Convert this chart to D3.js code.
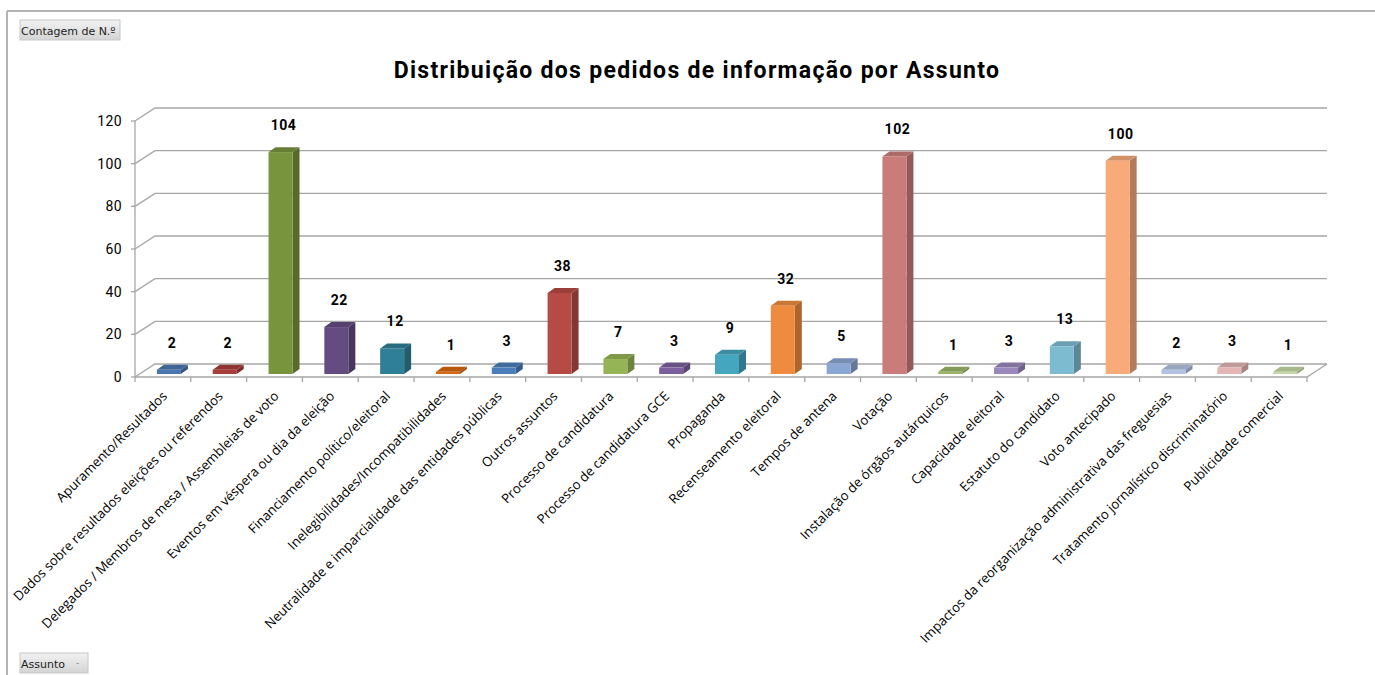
<!DOCTYPE html>
<html>
<head>
<meta charset="utf-8">
<script src="https://cdn.jsdelivr.net/npm/d3@7"></script>
<style>
  body { margin: 0; background: #fff; }
  svg { display: block; }
</style>
</head>
<body>
<svg id="chart" width="1375" height="675"></svg>
<script>
const categories = [
  "Apuramento/Resultados",
  "Dados sobre resultados eleições ou referendos",
  "Delegados / Membros de mesa / Assembleias de voto",
  "Eventos em véspera ou dia da eleição",
  "Financiamento político/eleitoral",
  "Inelegibilidades/Incompatibilidades",
  "Neutralidade e imparcialidade das entidades públicas",
  "Outros assuntos",
  "Processo de candidatura",
  "Processo de candidatura GCE",
  "Propaganda",
  "Recenseamento eleitoral",
  "Tempos de antena",
  "Votação",
  "Instalação de órgãos autárquicos",
  "Capacidade eleitoral",
  "Estatuto do candidato",
  "Voto antecipado",
  "Impactos da reorganização administrativa das freguesias",
  "Tratamento jornalístico discriminatório",
  "Publicidade comercial"
];
const counts = [2, 2, 104, 22, 12, 1, 3, 38, 7, 3, 9, 32, 5, 102, 1, 3, 13, 100, 2, 3, 1];
const barColors = [
  "#4a76ae", "#a83e3b", "#78953d", "#644b82", "#2f7f96", "#d9670f", "#4a7ebb",
  "#b64a45", "#95b455", "#7a5f9c", "#45a6c0", "#ef8b3f", "#8aa6d3", "#ca7c7b",
  "#9ab665", "#9a87bc", "#7dbcd0", "#f8aa79", "#b2c3e1", "#e3b6b5", "#c5d8a6"
];
const yTicks = [0, 20, 40, 60, 80, 100, 120];

const title = "Distribuição dos pedidos de informação por Assunto";

const svg = d3.select("#chart");

// frame
svg.append("line").attr("x1", 7).attr("y1", 11).attr("x2", 1375).attr("y2", 11)
  .attr("stroke", "#b4b4b4").attr("stroke-width", 2);
svg.append("line").attr("x1", 7).attr("y1", 11).attr("x2", 7).attr("y2", 675)
  .attr("stroke", "#b4b4b4").attr("stroke-width", 2);

// field buttons
function fieldButton(x, y, w, label, arrow) {
  const g = svg.append("g").attr("transform", `translate(${x},${y})`);
  const grad = "grad" + Math.round(y);
  const lg = svg.append("defs").append("linearGradient").attr("id", grad)
    .attr("x1", 0).attr("y1", 0).attr("x2", 0).attr("y2", 1);
  lg.append("stop").attr("offset", 0).attr("stop-color", "#f2f2f2");
  lg.append("stop").attr("offset", 1).attr("stop-color", "#d4d4d4");
  g.append("rect").attr("width", w).attr("height", 20)
    .attr("fill", `url(#${grad})`).attr("stroke", "#c8c8c8");
  g.append("text").attr("x", 1).attr("y", 14.5)
    .attr("font-family", "DejaVu Sans, sans-serif").attr("font-size", 11)
    .attr("fill", "#222").text(label);
  if (arrow) {
    g.append("text").attr("x", w - 12).attr("y", 13)
      .attr("font-family", "DejaVu Sans, sans-serif").attr("font-size", 9)
      .attr("fill", "#888").text("-");
  }
}
fieldButton(20, 20, 100, "Contagem de N.º", false);
fieldButton(20, 653, 68, "Assunto", true);

// title
svg.append("text")
  .attr("x", 697).attr("y", 78)
  .attr("text-anchor", "middle")
  .attr("font-family", "Roboto, sans-serif")
  .attr("font-weight", 700)
  .attr("font-size", 23)
  .attr("letter-spacing", 1.3)
  .attr("fill", "#000")
  .text(title);

// 3D geometry
const DX = 20, DY = -13;       // wall depth
const x = d3.scaleBand().domain(categories).range([135, 1307]);
const y = d3.scaleLinear().domain([0, 120]).range([377, 121]);

const grid = svg.append("g").attr("stroke", "#a6a6a6").attr("stroke-width", 1.3).attr("fill", "none");

yTicks.forEach(v => {
  const yf = y(v);
  grid.append("path").attr("d",
    `M${x.range()[0]},${yf} L${x.range()[0] + DX},${yf + DY} L${x.range()[1] + DX},${yf + DY}`);
});
// front-left axis
grid.append("line").attr("x1", 135).attr("y1", y(0)).attr("x2", 135).attr("y2", y(120));
// floor front edge and right diagonal
grid.append("path").attr("d",
  `M135,${y(0)} L${x.range()[1]},${y(0)} L${x.range()[1] + DX},${y(0) + DY}`);
// x ticks
const bounds = categories.map(c => x(c)).concat([x.range()[1]]);
bounds.forEach(b => {
  grid.append("line").attr("x1", b).attr("y1", y(0)).attr("x2", b).attr("y2", y(0) + 5);
});
// y ticks
yTicks.forEach(v => {
  grid.append("line").attr("x1", 131).attr("y1", y(v)).attr("x2", 135).attr("y2", y(v));
});

svg.append("g").selectAll("text").data(yTicks).join("text")
  .attr("x", 122).attr("y", d => y(d) + 5)
  .attr("text-anchor", "end")
  .attr("font-family", "Roboto, sans-serif")
  .attr("font-size", 14)
  .attr("letter-spacing", 0.4)
  .attr("fill", "#000")
  .text(d => d);

// bars
const BW = 24, BDX = 7, BDY = -5, SHIFT = 6, LIFT = 3;
const barG = svg.append("g");
categories.forEach((c, i) => {
  const v = counts[i];
  const col = d3.color(barColors[i]);
  const x0 = x(c) + x.bandwidth() / 2 - BW / 2 + SHIFT;
  const x1 = x0 + BW;
  const yb = y(0) - LIFT;
  const yt = y(v) - LIFT;
  const g = barG.append("g");
  // side
  g.append("path").attr("d",
    `M${x1},${yb} L${x1 + BDX},${yb + BDY} L${x1 + BDX},${yt + BDY} L${x1},${yt} Z`)
    .attr("fill", col.darker(0.9));
  // top
  g.append("path").attr("d",
    `M${x0},${yt} L${x0 + BDX},${yt + BDY} L${x1 + BDX},${yt + BDY} L${x1},${yt} Z`)
    .attr("fill", col.darker(0.45));
  // front
  g.append("rect").attr("x", x0).attr("y", yt).attr("width", BW).attr("height", yb - yt)
    .attr("fill", col);
  // value label
  g.append("text")
    .attr("x", x0 + BW / 2 + 3).attr("y", yt - 22)
    .attr("text-anchor", "middle")
    .attr("font-family", "Roboto, sans-serif")
    .attr("font-weight", 700)
    .attr("font-size", 14)
    .attr("letter-spacing", 0.5)
    .attr("fill", "#000")
    .text(v);
});

// category labels
svg.append("g").selectAll("text").data(categories).join("text")
  .attr("transform", d => `translate(${x(d) + x.bandwidth() / 2 + 5},${y(0) + 20}) rotate(-45)`)
  .attr("text-anchor", "end")
  .attr("font-family", "Open Sans, sans-serif")
  .attr("font-size", 13.2)
  .attr("fill", "#000")
  .text(d => d);
</script>
</body>
</html>
